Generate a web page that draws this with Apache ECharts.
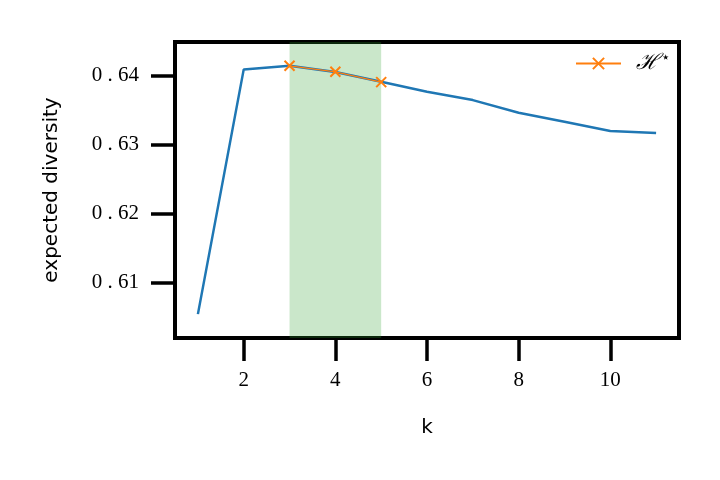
<!DOCTYPE html>
<html><head><meta charset="utf-8">
<script src="https://cdn.jsdelivr.net/npm/echarts@6/dist/echarts.min.js"></script>
<style>html,body{margin:0;padding:0;background:#fff}#c{width:720px;height:480px}</style>
</head><body><div id="c"></div>
<script>
const kValues = [1,2,3,4,5,6,7,8,9,10,11];
const diversity = [0.60546,0.64093,0.64145,0.64054,0.63913,0.63768,0.63648,0.63464,0.63333,0.63199,0.6317];
const hStarK = [3,4,5];
const hStarValues = [0.64145,0.64058,0.63909];
const xTicks = [2,4,6,8,10];
const yTicks = [0.61,0.62,0.63,0.64];
const shadeRange = [3,5];

const chart = echarts.init(document.getElementById('c'));
const xPath = 'path://M0,0L10,10M10,0L0,10';
const SP = '\u2005';
chart.setOption({
  animation:false,
  grid:{left:175,right:41,top:42,bottom:142,show:true,borderColor:'#000',borderWidth:4,backgroundColor:'transparent'},
  xAxis:{type:'value',min:0.5,max:11.5,
    name:'k',nameLocation:'middle',nameGap:80,
    nameTextStyle:{fontFamily:'DejaVu Sans',fontSize:20,color:'#000'},
    axisLine:{show:false},splitLine:{show:false},
    axisTick:{show:true,length:23,lineStyle:{width:3.5,color:'#000'},customValues:xTicks},
    axisLabel:{customValues:xTicks,margin:32,fontFamily:'Liberation Serif',fontSize:21,color:'#000'}},
  yAxis:{type:'value',min:0.602,max:0.6449,
    name:'expected diversity',nameLocation:'middle',nameGap:113,
    nameTextStyle:{fontFamily:'DejaVu Sans',fontSize:20,color:'#000'},
    axisLine:{show:false},splitLine:{show:false},
    axisTick:{show:true,length:24,lineStyle:{width:3.5,color:'#000'},customValues:yTicks},
    axisLabel:{customValues:yTicks,margin:36,fontFamily:'Liberation Serif',fontSize:21,color:'#000',
      formatter:v=>{const s=v.toFixed(2);return s[0]+SP+'.'+SP+s.slice(2);}}},
  legend:{left:570,top:46,itemWidth:45,itemHeight:14,
    data:[{name:'H*'}],
    itemStyle:{borderWidth:2},
    textStyle:{color:'#000',padding:[0,0,0,10],rich:{a:{fontFamily:'DejaVu Serif',fontSize:22,fontStyle:'italic',color:'#000'},b:{fontFamily:'DejaVu Sans',fontSize:15,verticalAlign:'top',padding:[0,0,10,2],color:'#000'}}},
    formatter:()=>'{a|ℋ}{b|⋆}'},
  series:[
    {type:'line',name:'diversity',data:kValues.map((k,i)=>[k,diversity[i]]),
      showSymbol:false,symbol:'none',lineStyle:{color:'#1f77b4',width:2.5},itemStyle:{color:'#1f77b4'},z:2,
      markArea:{silent:true,itemStyle:{color:'rgba(44,160,44,0.25)'},data:[[{xAxis:shadeRange[0]},{xAxis:shadeRange[1]}]],z:1}},
    {type:'line',name:'H*',data:hStarK.map((k,i)=>[k,hStarValues[i]]),
      symbol:xPath,symbolSize:10,lineStyle:{color:'#ff7f0e',width:1.2},
      itemStyle:{color:'#ff7f0e',borderColor:'#ff7f0e',borderWidth:2},z:3}
  ]
});
</script></body></html>
